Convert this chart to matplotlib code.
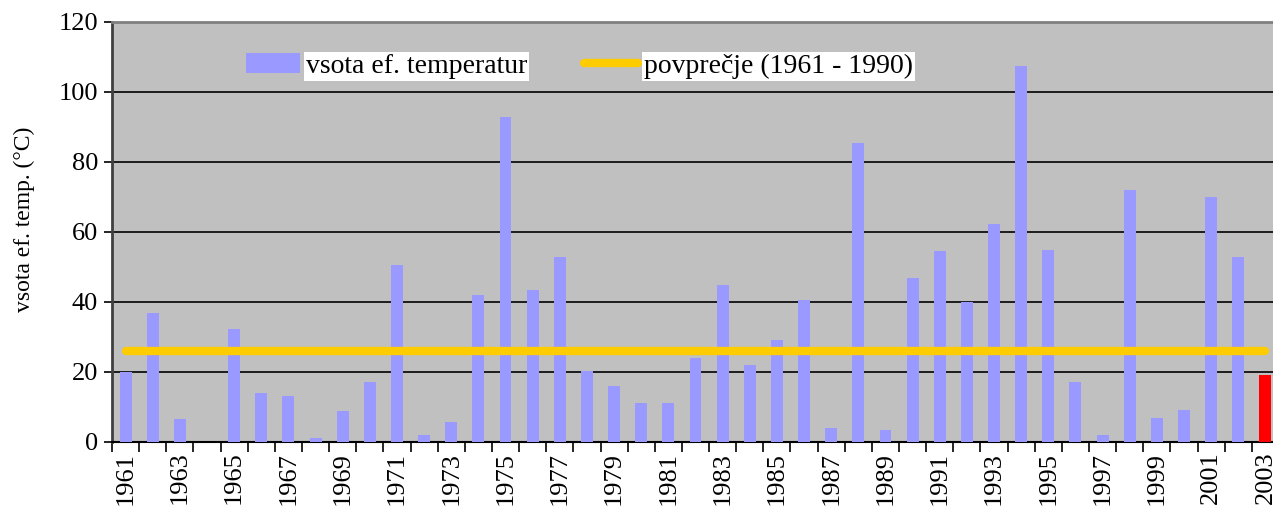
import matplotlib
matplotlib.use("Agg")
import matplotlib.pyplot as plt
import numpy as np

years = list(range(1961, 2004))
values = [20, 37, 6.6, 0, 32.3, 14, 13.1, 1.1, 8.9, 17.1,
          50.6, 2, 5.7, 42, 93, 43.5, 53, 20.3, 16, 11.1,
          11.1, 24, 45, 22, 29.1, 40.5, 4, 85.3, 3.4, 47,
          54.5, 40, 62.3, 107.5, 55, 17.1, 2, 72, 6.9, 9.1,
          70, 53, 19.1]
average = 26
y_ticks = [0, 20, 40, 60, 80, 100, 120]

plt.rcParams['font.family'] = ['Liberation Serif', 'DejaVu Serif']

W, H = 1273, 514
fig = plt.figure(figsize=(W/100, H/100), dpi=100)
ax = fig.add_axes([112/W, 1-442/H, 1167/W, 420/H])
ax.set_facecolor('#C0C0C0')

x = np.arange(len(years))
colors = ['#9999FF'] * (len(years) - 1) + ['#FF0000']
bars = ax.bar(x, values, width=0.44, color=colors, zorder=3, label='vsota ef. temperatur')
line, = ax.plot([x[0], x[-1]], [average, average], color='#FFCC00', lw=6,
                solid_capstyle='round', zorder=4, label='povprečje (1961 - 1990)')

ax.set_xlim(-0.5, len(years) - 0.5)
ax.set_ylim(0, 120)
ax.set_yticks(y_ticks)
ax.set_yticklabels([str(v) for v in y_ticks], fontsize=19)
ax.yaxis.grid(True, color='black', lw=1.2, zorder=1)
ax.tick_params(axis='y', length=6, width=1.2, pad=4)

ax.set_xticks(x[::2])
ax.set_xticklabels([str(y) for y in years[::2]], rotation=90, fontsize=19)
ax.set_xticks(np.arange(-0.5, len(years), 1), minor=True)
ax.tick_params(axis='x', which='major', length=0, pad=7)
ax.tick_params(axis='x', which='minor', length=7, width=1.2)

ax.set_ylabel('vsota ef. temp. (°C)', fontsize=17)
ax.yaxis.set_label_coords(-0.066, 0.53)

ax.spines['top'].set_color('#808080')
ax.spines['top'].set_linewidth(2)
ax.spines['left'].set_color('#404040')
ax.spines['left'].set_linewidth(2)
ax.spines['bottom'].set_color('black')
ax.spines['bottom'].set_linewidth(1.5)
ax.spines['right'].set_visible(False)

leg = ax.legend([bars, line], ['vsota ef. temperatur', 'povprečje (1961 - 1990)'],
                loc='center left', bbox_to_anchor=(0.115, 0.895), ncol=2, frameon=False,
                fontsize=20, handlelength=1.95, handletextpad=0.2, columnspacing=2.05,
                borderpad=0, borderaxespad=0)
for t in leg.get_texts():
    t.set_bbox(dict(facecolor='white', edgecolor='none', pad=1.5))

fig.savefig('out.png', dpi=100)
